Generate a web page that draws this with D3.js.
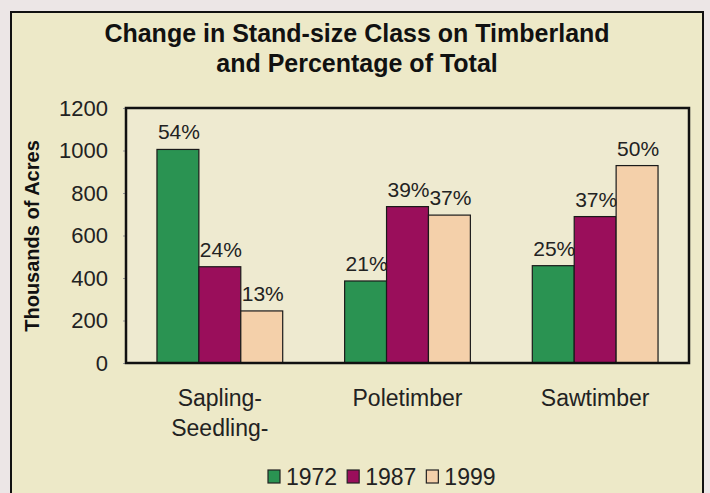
<!DOCTYPE html>
<html><head><meta charset="utf-8">
<script src="https://cdn.jsdelivr.net/npm/d3@7"></script>
<style>html,body{margin:0;padding:0;background:#ece6e6;}svg{display:block;}</style>
</head><body>
<svg id="chart" width="710" height="493"></svg>
<script>
const categories = ["Sapling-Seedling-", "Poletimber", "Sawtimber"];
const categoryLines = [["Sapling-", "Seedling-"], ["Poletimber"], ["Sawtimber"]];
const years = ["1972", "1987", "1999"];
const values1972 = [1005, 386, 458];
const values1987 = [453, 736, 689];
const values1999 = [245, 696, 929];
const pct1972 = ["54%", "21%", "25%"];
const pct1987 = ["24%", "39%", "37%"];
const pct1999 = ["13%", "37%", "50%"];
const yTicks = [0, 200, 400, 600, 800, 1000, 1200];
const colors = ["#2a9352", "#9a0e5b", "#f4d0aa"];

const series = [values1972, values1987, values1999];
const pcts = [pct1972, pct1987, pct1999];

const svg = d3.select("#chart");
const font = "'Liberation Sans', Arial, Helvetica, sans-serif";

// outer frame
svg.append("rect").attr("x", 11).attr("y", 12).attr("width", 692).attr("height", 500)
  .attr("fill", "#ede9c8").attr("stroke", "#111").attr("stroke-width", 2);

const plot = {left: 126, right: 689, top: 108, bottom: 363};

const x0 = d3.scaleBand().domain(categories).range([plot.left, plot.right]).paddingInner(0.33).paddingOuter(0.165);
const x1 = d3.scaleBand().domain(years).range([0, x0.bandwidth()]);
const y = d3.scaleLinear().domain([0, 1200]).range([plot.bottom, plot.top]);

svg.append("rect").attr("x", plot.left).attr("y", plot.top)
  .attr("width", plot.right - plot.left).attr("height", plot.bottom - plot.top)
  .attr("fill", "#eeead0");

// title
const title = svg.append("text").attr("text-anchor", "middle").attr("font-family", font)
  .attr("font-weight", "bold").attr("font-size", 25).attr("fill", "#111");
title.append("tspan").attr("x", 357).attr("y", 42).text("Change in Stand-size Class on Timberland");
title.append("tspan").attr("x", 357).attr("y", 72).text("and Percentage of Total");

// y axis
const yAxis = d3.axisLeft(y).tickValues(yTicks).tickSize(3).tickPadding(15).tickFormat(d3.format("d"));
const gy = svg.append("g").attr("transform", `translate(${plot.left},0)`).call(yAxis);
gy.select(".domain").remove();
gy.selectAll(".tick line").attr("stroke", "#999");
gy.selectAll(".tick text").attr("font-family", font).attr("font-size", 22).attr("fill", "#222");

svg.append("text").attr("transform", "translate(39,236) rotate(-90)")
  .attr("text-anchor", "middle").attr("font-family", font).attr("font-weight", "bold")
  .attr("font-size", 20).attr("fill", "#111").text("Thousands of Acres");

// bars
const groups = svg.append("g").selectAll("g").data(categories).join("g")
  .attr("transform", d => `translate(${x0(d)},0)`);

groups.selectAll("rect").data((d, i) => years.map((yr, j) => ({yr, v: series[j][i], c: colors[j]})))
  .join("rect")
  .attr("x", d => x1(d.yr)).attr("y", d => y(d.v))
  .attr("width", x1.bandwidth()).attr("height", d => y(0) - y(d.v))
  .attr("fill", d => d.c).attr("stroke", "#1a1a1a").attr("stroke-width", 1.2);

groups.selectAll("text.pct").data((d, i) => years.map((yr, j) => ({yr, v: series[j][i], p: pcts[j][i]})))
  .join("text").attr("class", "pct")
  .attr("x", d => x1(d.yr) + x1.bandwidth() / 2 + 1).attr("y", d => y(d.v) - 10)
  .attr("text-anchor", "middle").attr("font-family", font).attr("font-size", 21).attr("fill", "#222")
  .text(d => d.p);

// plot border
svg.append("rect").attr("x", plot.left).attr("y", plot.top)
  .attr("width", plot.right - plot.left).attr("height", plot.bottom - plot.top)
  .attr("fill", "none").attr("stroke", "#111").attr("stroke-width", 2.5);

// category labels
categories.forEach((c, i) => {
  const t = svg.append("text").attr("text-anchor", "middle").attr("font-family", font)
    .attr("font-size", 23).attr("fill", "#222");
  categoryLines[i].forEach((line, k) => {
    t.append("tspan").attr("x", x0(c) + x0.bandwidth() / 2).attr("y", 406 + k * 30).text(line);
  });
});

// legend
const leg = svg.append("g").attr("font-family", font).attr("font-size", 23).attr("fill", "#222");
let lx = 0;
years.forEach((yr, j) => {
  const g = leg.append("g").attr("transform", `translate(${lx},0)`);
  g.append("rect").attr("x", 0).attr("y", -15).attr("width", 12).attr("height", 13)
    .attr("fill", colors[j]).attr("stroke", "#222").attr("stroke-width", 1.2);
  const t = g.append("text").attr("x", 18).attr("y", 0).text(yr);
  const w = t.node().getComputedTextLength();
  lx += 18 + w + 10;
});
leg.attr("transform", `translate(268,485)`);
</script>
</body></html>
